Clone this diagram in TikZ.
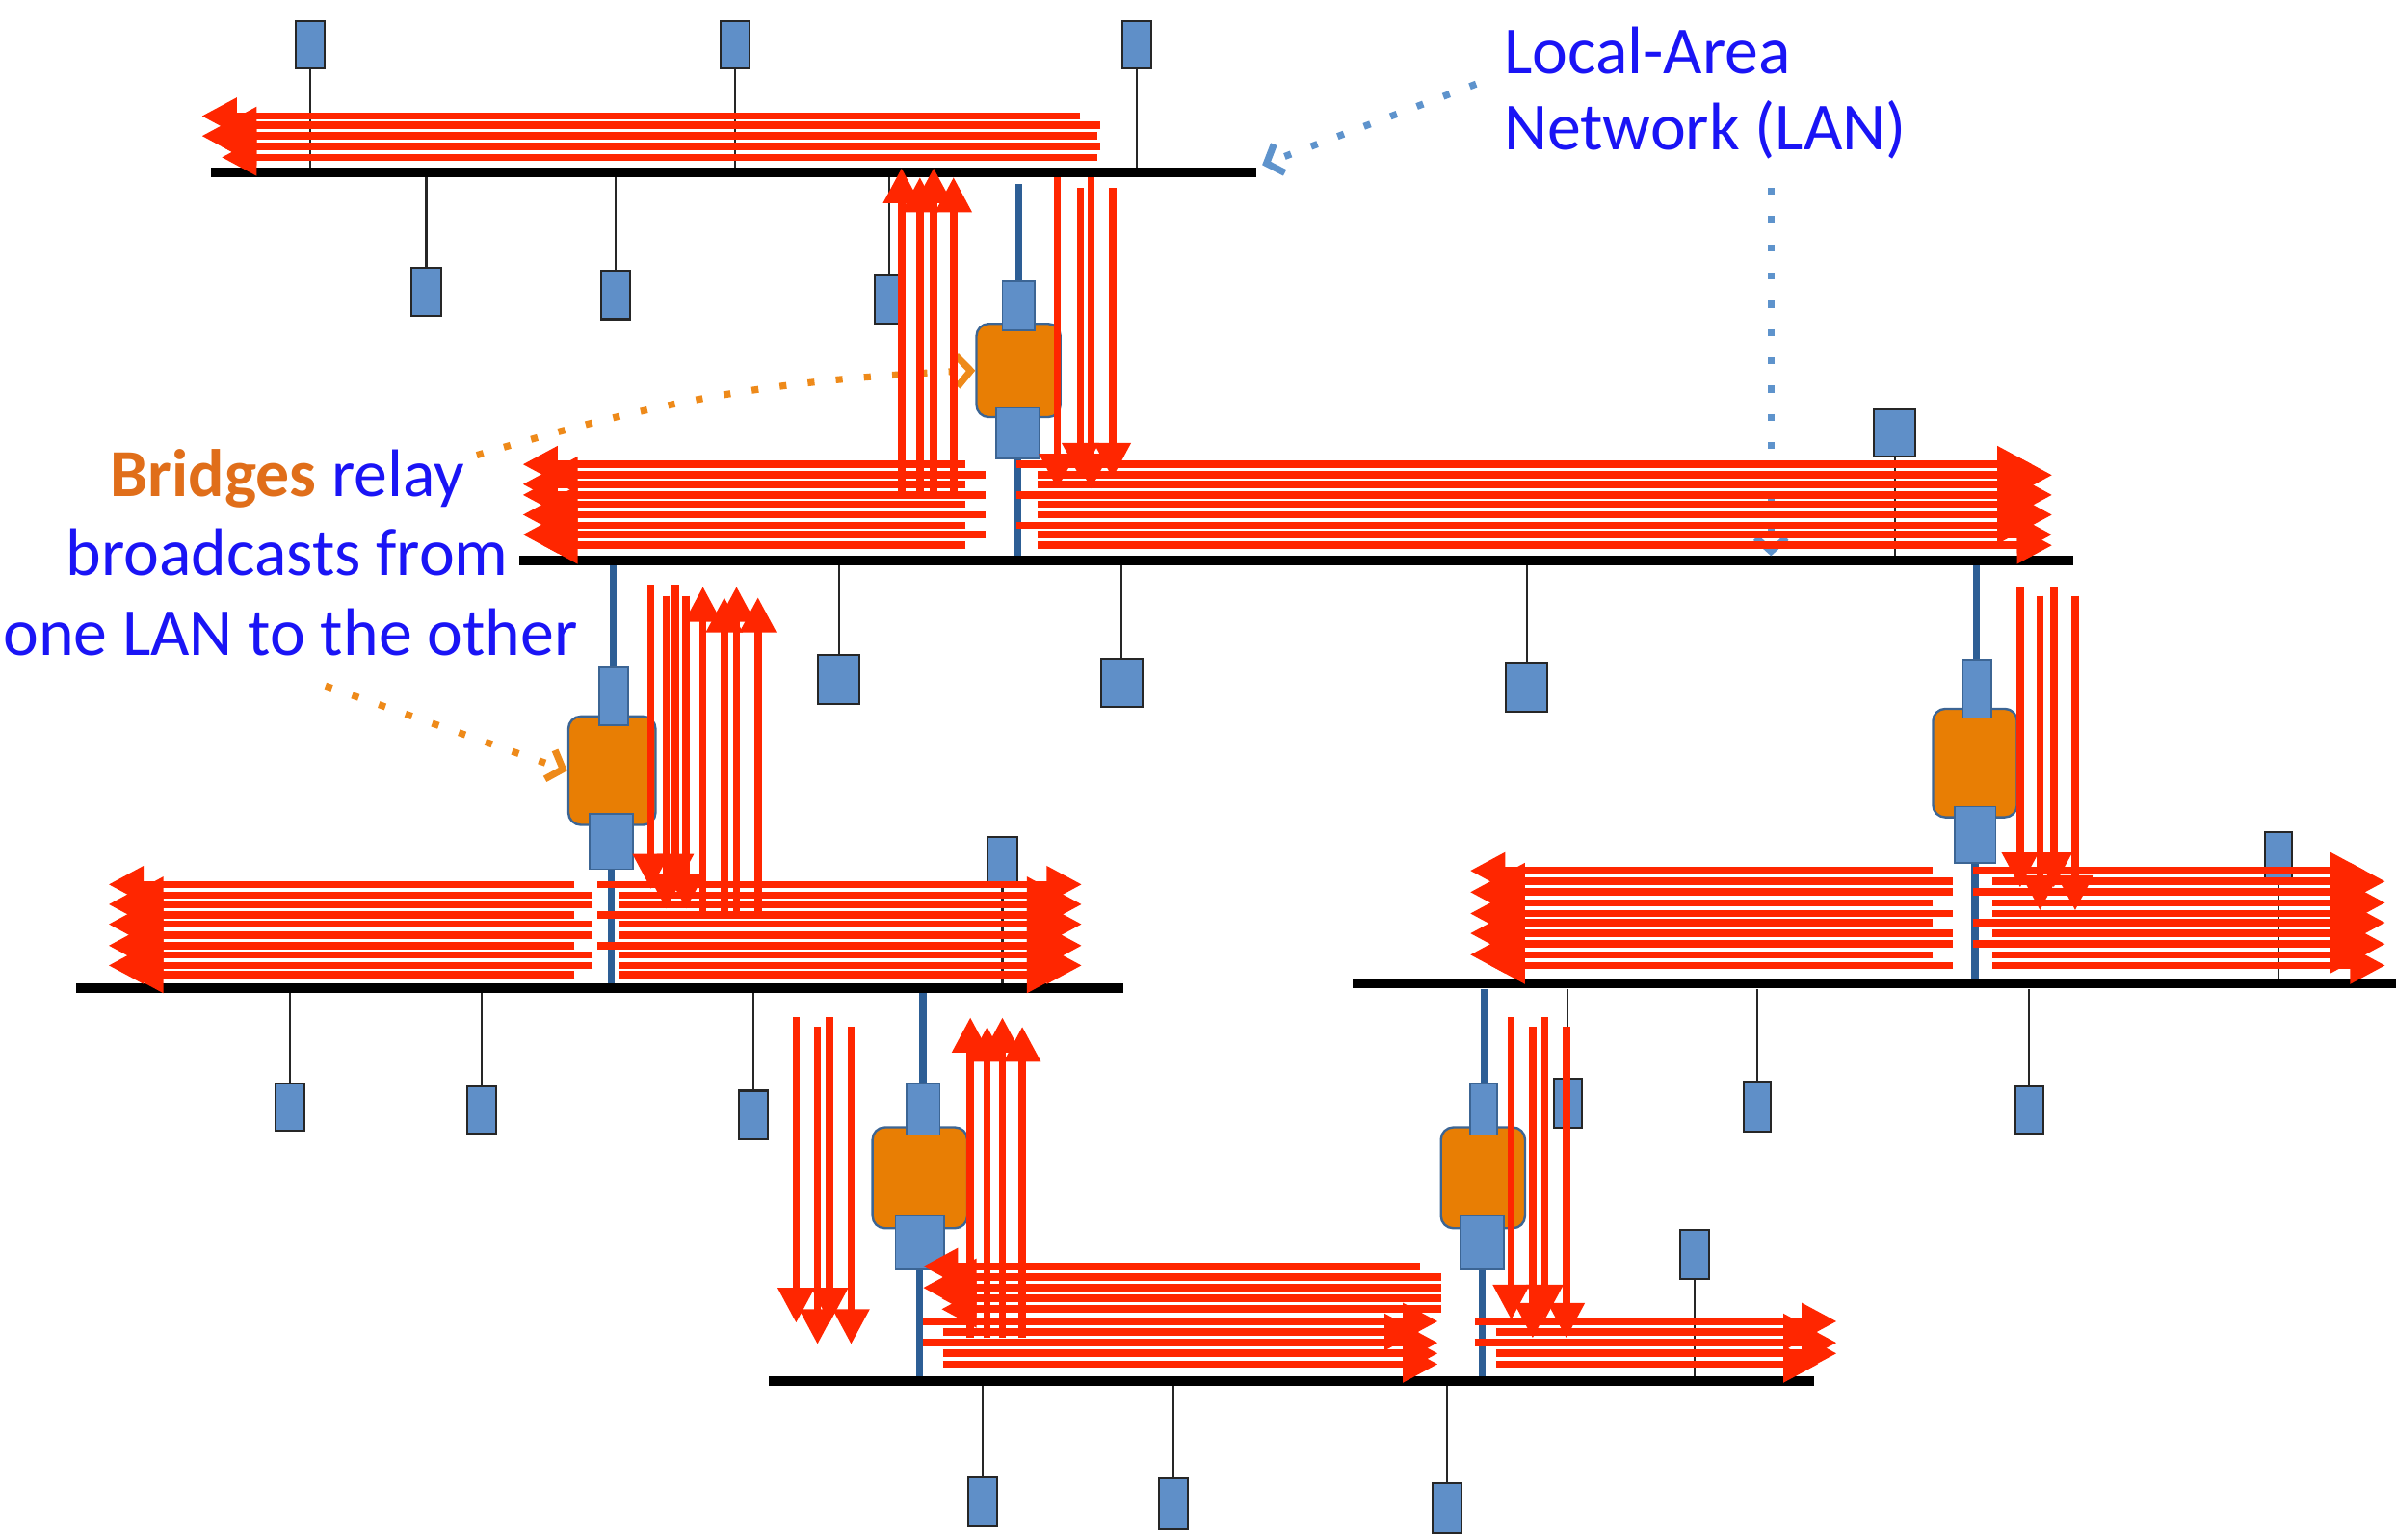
\documentclass[tikz,border=0pt]{standalone}
\usepackage{fontspec}
\setmainfont{Carlito}
\usetikzlibrary{arrows.meta}
\definecolor{rd}{HTML}{FF2600}
\definecolor{stfill}{HTML}{5F8FC8}
\definecolor{brfill}{HTML}{E87E04}
\definecolor{brline}{HTML}{3C6594}
\definecolor{cablec}{HTML}{2D5E95}
\definecolor{txtblue}{HTML}{1A14F5}
\definecolor{txtorange}{HTML}{E06E1A}
\definecolor{dotblue}{HTML}{5E93CC}
\definecolor{dotorange}{HTML}{EE8A1A}
\tikzset{
  lanbar/.style={rectangle, fill=black, inner sep=0pt, minimum height=6pt},
  station/.style={rectangle, draw=black!85, fill=stfill, line width=1.3pt, inner sep=0pt, minimum width=19pt, minimum height=31pt},
  stline/.style={black!85, line width=1.3pt},
  brbody/.style={rectangle, rounded corners=8pt, draw=brline, fill=brfill, line width=1.5pt, inner sep=0pt},
  brport/.style={rectangle, draw=brline, fill=stfill, line width=1.2pt, inner sep=0pt},
  cableline/.style={cablec, line width=4.5pt},
  redarr/.style={rd, line width=4.8pt, -{Triangle[length=23pt,width=23pt]}},
  dotline/.style={line width=4.5pt, dash pattern=on 4.5pt off 14pt, -{Straight Barb[length=9pt,width=20pt]}},
  lbl/.style={inner sep=0pt, font=\fontsize{44}{50}\selectfont, text=txtblue}
}
\begin{document}
\begin{tikzpicture}[x=1pt,y=-1pt]
\useasboundingbox (0,0) rectangle (1568,1008);
% LAN bars
\node[lanbar, minimum width=684pt] (lan1) at (480,113) {};
\node[lanbar, minimum width=1017pt] (lan2) at (848.5,367) {};
\node[lanbar, minimum width=685pt] (lan3) at (392.5,647) {};
\node[lanbar, minimum width=683pt] (lan4) at (1226.5,644) {};
\node[lanbar, minimum width=684pt] (lan5) at (845,904) {};
% stations above bars: name/x/ytop/ybot/width/lan
\foreach \n/\x/\ya/\yb/\w/\l in {t1/203/14/45/19/lan1, t2/481/14/45/19/lan1, t3/744/14/45/19/lan1,
   t4/1240/268/299/27/lan2, t5/656/548/580/19/lan3, t6/1491/545/577/18/lan4, t7/1109/805/837/19/lan5}{
  \node[station, minimum width=\w pt, minimum height={\yb-\ya}] (\n) at (\x,{(\ya+\yb)/2}) {};
  \draw[stline] (\n.south) -- (\n.south |- \l.north);
}
% stations below bars
\foreach \n/\x/\ya/\yb/\w/\l in {u1/279/175/207/19/lan1, u2/403/177/209/19/lan1, u3/582/180/212/19/lan1,
   u4/549/429/461/27/lan2, u5/734/431/463/27/lan2, u6/999/434/466/27/lan2,
   u7/190/709/740/19/lan3, u8/315/711/742/19/lan3, u9/493/714/746/19/lan3,
   u10/1026/706/738/18/lan4, u11/1150/708/741/18/lan4, u12/1328/711/742/18/lan4,
   u13/643/967/999/19/lan5, u14/768/968/1001/19/lan5, u15/947/971/1004/19/lan5}{
  \node[station, minimum width=\w pt, minimum height={\yb-\ya}] (\n) at (\x,{(\ya+\yb)/2}) {};
  \draw[stline] (\n.north) -- (\n.north |- \l.south);
}
% B1
\node[brport, minimum width=21pt, minimum height=32pt] (b1top) at (666.5,200) {};
\draw[cableline] (b1top.north) -- ++(0,-63);
\node[brport, minimum width=28pt, minimum height=33pt] (b1bot) at (666,283.5) {};
\draw[cableline] (b1bot.south) -- (b1bot.south |- lan2.north);
\node[brbody, minimum width=55pt, minimum height=61pt] (b1) at (666.5,242.5) {};
\node[brport, minimum width=21pt, minimum height=32pt] at (b1top) {};
\node[brport, minimum width=28pt, minimum height=33pt] at (b1bot) {};
% B2
\node[brport, minimum width=19pt, minimum height=38pt] (b2top) at (401.5,456) {};
\draw[cableline] (b2top.north) -- (b2top.north |- lan2.south);
\node[brport, minimum width=28pt, minimum height=36pt] (b2bot) at (400,551) {};
\draw[cableline] (b2bot.south) -- (b2bot.south |- lan3.north);
\node[brbody, minimum width=57pt, minimum height=71pt] (b2) at (400.5,504.5) {};
\node[brport, minimum width=19pt, minimum height=38pt] at (b2top) {};
\node[brport, minimum width=28pt, minimum height=36pt] at (b2bot) {};
% B3
\node[brport, minimum width=19pt, minimum height=38pt] (b3top) at (1293.5,451) {};
\draw[cableline] (b3top.north) -- (b3top.north |- lan2.south);
\node[brport, minimum width=27pt, minimum height=37pt] (b3bot) at (1292.5,546.5) {};
\draw[cableline] (b3bot.south) -- (b3bot.south |- lan4.north);
\node[brbody, minimum width=55pt, minimum height=71pt] (b3) at (1292.5,499.5) {};
\node[brport, minimum width=19pt, minimum height=38pt] at (b3top) {};
\node[brport, minimum width=27pt, minimum height=37pt] at (b3bot) {};
% B4
\node[brport, minimum width=22pt, minimum height=34pt] (b4top) at (604,726) {};
\draw[cableline] (b4top.north) -- (b4top.north |- lan3.south);
\node[brport, minimum width=32pt, minimum height=35pt] (b4bot) at (602,813.5) {};
\draw[cableline] (b4bot.south) -- (b4bot.south |- lan5.north);
\node[brbody, minimum width=62pt, minimum height=66pt] (b4) at (602,771) {};
\node[brport, minimum width=22pt, minimum height=34pt] at (b4top) {};
\node[brport, minimum width=32pt, minimum height=35pt] at (b4bot) {};
% B5
\node[brport, minimum width=18pt, minimum height=34pt] (b5top) at (971,726) {};
\draw[cableline] (b5top.north) -- (b5top.north |- lan4.south);
\node[brport, minimum width=28pt, minimum height=35pt] (b5bot) at (970,813.5) {};
\draw[cableline] (b5bot.south) -- (b5bot.south |- lan5.north);
\node[brbody, minimum width=55pt, minimum height=66pt] (b5) at (970.5,771) {};
\node[brport, minimum width=18pt, minimum height=34pt] at (b5top) {};
\node[brport, minimum width=28pt, minimum height=35pt] at (b5bot) {};
% labels
\node[lbl, anchor=base west] (lanA) at (984,48) {Local-Area};
\node[lbl, anchor=base west] (lanB) at (984,98) {Network (LAN)};
\node[lbl, anchor=base] (brA) at (188,325) {\textcolor{txtorange}{\bfseries Bridges} relay};
\node[lbl, anchor=base] (brB) at (188,377) {broadcasts from};
\node[lbl, anchor=base] (brC) at (190,429) {one LAN to the other};
% dotted callouts
\coordinate (dA) at (966,55);
\coordinate (dAe) at (826,108);
\coordinate (dB) at (1159,123);
\coordinate (dBe) at (1159,364);
\coordinate (dC) at (312,298);
\coordinate (dD) at (213,449);
\draw[dotline, dotblue] (dA) -- (dAe);
\draw[dotline, dotblue] (dB) -- (dBe);
\draw[dotline, dotorange] (dC) to[bend left=7] (b1.west);
\draw[dotline, dotorange] (dD) -- (b2.west);
% red broadcast arrows
\foreach \y/\a/\b in {76/707/132, 82/720/145, 89/718/132, 96/720/145, 103/718/145,
  304/632/342, 311/645/355, 317/632/342, 324/645/342, 330/632/355, 337/645/342, 344/632/355, 350/645/342, 357/632/355,
  304/665/1330, 311/679/1343, 317/679/1330, 324/665/1343, 330/679/1330, 337/679/1343, 344/665/1330, 350/679/1343, 357/679/1343,
  579/376/71, 586/388/84, 592/388/71, 599/376/84, 605/388/71, 612/388/84, 619/376/71, 625/388/84, 632/388/71, 638/376/84,
  579/391/708, 586/405/695, 592/405/708, 599/391/695, 605/405/708, 612/405/695, 619/391/708, 625/405/695, 632/405/708, 638/405/695,
  570/1265/962, 577/1278/975, 584/1278/962, 591/1265/975, 598/1278/962, 604/1265/975, 611/1278/962, 618/1278/975, 625/1265/962, 632/1278/975,
  570/1291/1548, 577/1304/1561, 584/1291/1548, 591/1304/1561, 598/1304/1548, 604/1291/1561, 611/1304/1548, 618/1291/1561, 625/1304/1548, 632/1304/1561,
  829/929/604, 836/943/616, 843/943/604, 850/943/616, 857/943/616,
  865/604/941, 872/617/929, 879/604/941, 886/617/941, 893/617/941,
  865/965/1202, 872/979/1190, 879/965/1202, 886/979/1202, 893/979/1190}{
  \draw[redarr] (\a,\y) -- (\b,\y);
}
\foreach \x/\a/\b in {590/323/110, 602/323/116, 611/323/110, 624/323/116,
  692/116/320, 707/123/313, 714/116/320, 728/123/313,
  426/383/582, 436/390/595, 442/383/582, 449/390/595,
  460/597/384, 474/597/391, 482/597/384, 496/597/391,
  1322/384/581, 1335/390/596, 1344/384/581, 1358/390/596,
  521/666/866, 535/672/880, 543/666/866, 557/672/880,
  635/876/666, 646/876/672, 656/876/666, 669/876/672,
  989/666/864, 1003/672/876, 1011/666/864, 1025/672/876}{
  \draw[redarr] (\x,\a) -- (\x,\b);
}
\end{tikzpicture}
\end{document}
